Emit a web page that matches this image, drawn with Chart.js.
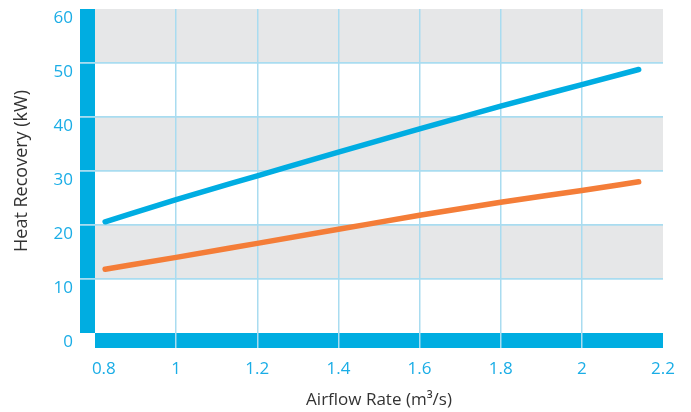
<!DOCTYPE html>
<html>
<head>
<meta charset="utf-8">
<script src="https://cdn.jsdelivr.net/npm/chart.js@4/dist/chart.umd.min.js"></script>
<style>
  html, body { margin: 0; padding: 0; background: #fff; }
  canvas { display: block; }
</style>
</head>
<body>
<canvas id="chartCanvas" width="691" height="412"></canvas>
<script>
// values
const airflow = [0.825, 1.0, 1.2, 1.4, 1.6, 1.8, 2.0, 2.14];
const recoveryBlue = [20.6, 24.7, 29.1, 33.5, 37.8, 42.0, 46.0, 48.8];
const recoveryOrange = [11.8, 14.0, 16.6, 19.2, 21.8, 24.2, 26.4, 28.0];
const xTicks = [0.8, 1, 1.2, 1.4, 1.6, 1.8, 2, 2.2];
const yTicks = [0, 10, 20, 30, 40, 50, 60];
const grayBands = [[10, 20], [30, 40], [50, 60]];

const BLUE = "#00ade2";
const ORANGE = "#f47d38";
const GRID = "#a9dcf0";
const LABEL = "#1aade6";
const BAR_COLOR = "#00ade1";
const BAR = 15;

// gray bands + thick blue axis bars, painted under the grid
const backdrop = {
  id: "backdrop",
  beforeDraw(chart) {
    const { ctx, chartArea: a, scales } = chart;
    ctx.save();
    ctx.fillStyle = "#e6e7e8";
    grayBands.forEach(([lo, hi]) => {
      const y1 = scales.y.getPixelForValue(hi);
      const y2 = scales.y.getPixelForValue(lo);
      ctx.fillRect(a.left, y1, a.right - a.left, y2 - y1);
    });
    ctx.fillStyle = BAR_COLOR;
    ctx.fillRect(a.left - BAR, a.top, BAR, a.bottom - a.top);
    ctx.fillRect(a.left, a.bottom, a.right - a.left, BAR);
    ctx.restore();
  }
};

const hideEnds = (list) => (c) => {
  const v = c.tick ? c.tick.value : null;
  return v === list[0] || v === list[list.length - 1] ? "rgba(0,0,0,0)" : GRID;
};

const tickFont = { family: "'Open Sans', sans-serif", size: 17 };
const titleFont = { family: "'Open Sans', sans-serif", size: 17 };

new Chart(document.getElementById("chartCanvas"), {
  type: "line",
  data: {
    datasets: [
      { data: airflow.map((x, i) => ({ x, y: recoveryBlue[i] })), borderColor: BLUE, borderWidth: 5.5, borderCapStyle: "round", pointRadius: 0, cubicInterpolationMode: "monotone" },
      { data: airflow.map((x, i) => ({ x, y: recoveryOrange[i] })), borderColor: ORANGE, borderWidth: 5.5, borderCapStyle: "round", pointRadius: 0, cubicInterpolationMode: "monotone" }
    ]
  },
  options: {
    responsive: false,
    animation: false,
    layout: { padding: { top: 9, right: 28, bottom: 0, left: 0 } },
    plugins: { legend: { display: false }, tooltip: { enabled: false } },
    scales: {
      x: {
        type: "linear",
        min: 0.8,
        max: 2.2,
        afterBuildTicks: (s) => { s.ticks = xTicks.map((value) => ({ value })); },
        afterFit: (s) => { s.height = 79; s.paddingLeft = 0; s.paddingRight = 0; },
        border: { display: false },
        grid: { color: hideEnds(xTicks), lineWidth: 1.5, tickLength: BAR },
        ticks: {
          color: LABEL, font: tickFont, padding: 11, maxRotation: 0,
          // first label sits a little right of its tick in the reference
          callback: (v) => (v === 0.8 ? "\u00a0\u00a0\u00a0\u00a00.8" : String(v))
        },
        title: { display: true, text: "Airflow Rate (m³/s)", color: "#333", font: titleFont, padding: { top: 0, bottom: 2 } }
      },
      y: {
        min: 0,
        max: 60,
        afterBuildTicks: (s) => { s.ticks = yTicks.map((value) => ({ value })); },
        afterFit: (s) => { s.width = 95; s.paddingTop = 0; s.paddingBottom = 0; },
        border: { display: false },
        grid: { color: hideEnds(yTicks), lineWidth: 1.8, tickLength: BAR },
        ticks: { color: LABEL, font: tickFont, padding: 7, labelOffset: 9, callback: (v) => String(v) },
        title: { display: true, text: "Heat Recovery (kW)", color: "#333", font: { family: "'Open Sans', sans-serif", size: 18 }, padding: { top: 11, bottom: 0 } }
      }
    }
  },
  plugins: [backdrop]
});
</script>
</body>
</html>
